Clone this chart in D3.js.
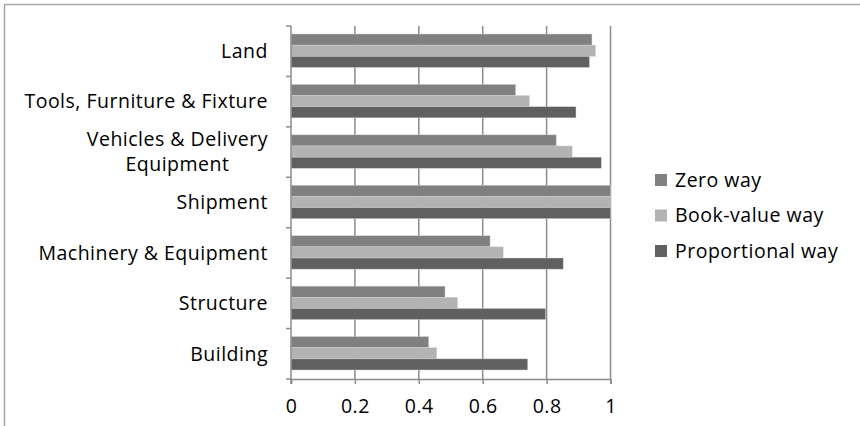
<!DOCTYPE html>
<html>
<head>
<meta charset="utf-8">
<script src="https://cdn.jsdelivr.net/npm/d3@7"></script>
<style>
  body { margin: 0; background: #fff; }
  text { font-family: "Open Sans", "Noto Sans", sans-serif; fill: #000; letter-spacing: 0.5px; }
</style>
</head>
<body>
<svg id="chart"></svg>
<script>
// categories top to bottom
const categories = ["Land", "Tools, Furniture & Fixture", "Vehicles & Delivery Equipment",
  "Shipment", "Machinery & Equipment", "Structure", "Building"];
const seriesNames = ["Zero way", "Book-value way", "Proportional way"];
const zeroWay = [0.942, 0.703, 0.83, 1.0, 0.623, 0.482, 0.431];
const bookValueWay = [0.953, 0.746, 0.88, 1.0, 0.664, 0.521, 0.456];
const proportionalWay = [0.934, 0.892, 0.971, 1.0, 0.852, 0.797, 0.741];
const xTicks = [0, 0.2, 0.4, 0.6, 0.8, 1];

const colors = ["#808080", "#b3b3b3", "#606060"];
const width = 860, height = 426;
const fontSize = 19.5;

const svg = d3.select("#chart").attr("width", width).attr("height", height);

// outer frame
svg.append("rect")
  .attr("x", 4.5).attr("y", 4.5)
  .attr("width", width).attr("height", height)
  .attr("fill", "none").attr("stroke", "#a6a6a6").attr("stroke-width", 1.5);

const x = d3.scaleLinear().domain([0, 1]).range([291, 610.5]);
const y = d3.scaleBand().domain(categories).range([26, 379]).paddingInner(0).paddingOuter(0);
const sub = d3.scaleBand().domain(seriesNames).range([8, y.bandwidth() - 9]);

// gridlines
svg.append("g")
  .selectAll("line")
  .data(xTicks.slice(1))
  .enter()
  .append("line")
  .attr("x1", d => x(d)).attr("x2", d => x(d))
  .attr("y1", 26).attr("y2", 379)
  .attr("stroke", "#8c8c8c").attr("stroke-width", 1.5);

// bars
const series = [zeroWay, bookValueWay, proportionalWay];
const rows = categories.map((c, i) => ({ c, vals: series.map((s, j) => ({ name: seriesNames[j], v: s[i], color: colors[j] })) }));

svg.append("g")
  .selectAll("g")
  .data(rows)
  .enter()
  .append("g")
  .attr("transform", d => `translate(0,${y(d.c)})`)
  .selectAll("rect")
  .data(d => d.vals)
  .enter()
  .append("rect")
  .attr("x", x(0))
  .attr("y", d => sub(d.name))
  .attr("width", d => x(d.v) - x(0))
  .attr("height", sub.bandwidth())
  .attr("fill", d => d.color)
  .attr("stroke", "#d0d0d0").attr("stroke-width", 0.5);

// x axis
const xAxis = svg.append("g")
  .attr("transform", "translate(0,379)")
  .call(d3.axisBottom(x).tickValues(xTicks).tickFormat(d => d).tickSize(5).tickPadding(15));
xAxis.select(".domain").attr("stroke", "#8c8c8c").attr("stroke-width", 1.5);
xAxis.selectAll(".tick line").attr("stroke", "#8c8c8c").attr("stroke-width", 1.5);
xAxis.selectAll("text").attr("font-size", fontSize).style("font-family", "'Open Sans', sans-serif");

// y axis (category boundaries as ticks)
const yAxis = svg.append("g");
yAxis.append("line")
  .attr("x1", x(0)).attr("x2", x(0)).attr("y1", 26).attr("y2", 384)
  .attr("stroke", "#8c8c8c").attr("stroke-width", 1.5);
const bounds = categories.map(c => y(c)).concat([y.range()[1]]);
yAxis.selectAll("line.tk")
  .data(bounds)
  .enter()
  .append("line")
  .attr("class", "tk")
  .attr("x1", x(0) - 5).attr("x2", x(0))
  .attr("y1", d => d).attr("y2", d => d)
  .attr("stroke", "#8c8c8c").attr("stroke-width", 1.5);

// category labels
const labelLines = {
  "Vehicles & Delivery Equipment": ["Vehicles & Delivery", "Equipment"]
};
categories.forEach(c => {
  const lines = labelLines[c] || [c];
  const cy = y(c) + y.bandwidth() / 2;
  const t = svg.append("text")
    .attr("class", "cat")
    .attr("font-size", fontSize);
  lines.forEach((ln, k) => {
    t.append("tspan")
      .attr("x", 268)
      .attr("text-anchor", "end")
      .attr("y", cy + (k - (lines.length - 1) / 2) * 25)
      .attr("dy", "0.35em")
      .text(ln);
  });
});
// center the second line of the wrapped label under the first
svg.selectAll("text.cat").filter(function () { return this.childNodes.length === 2; })
  .each(function () {
    const spans = d3.select(this).selectAll("tspan").nodes();
    const w0 = spans[0].getComputedTextLength();
    spans.forEach(s => d3.select(s).attr("text-anchor", "middle").attr("x", 268 - w0 / 2));
  });

// legend
const legend = svg.append("g");
seriesNames.forEach((n, i) => {
  const ly = 180 + i * 35.5;
  legend.append("rect")
    .attr("x", 655).attr("y", ly - 6).attr("width", 12).attr("height", 12)
    .attr("fill", colors[i]);
  legend.append("text")
    .attr("x", 675).attr("y", ly).attr("dy", "0.35em")
    .attr("font-size", fontSize)
    .text(n);
});
</script>
</body>
</html>
